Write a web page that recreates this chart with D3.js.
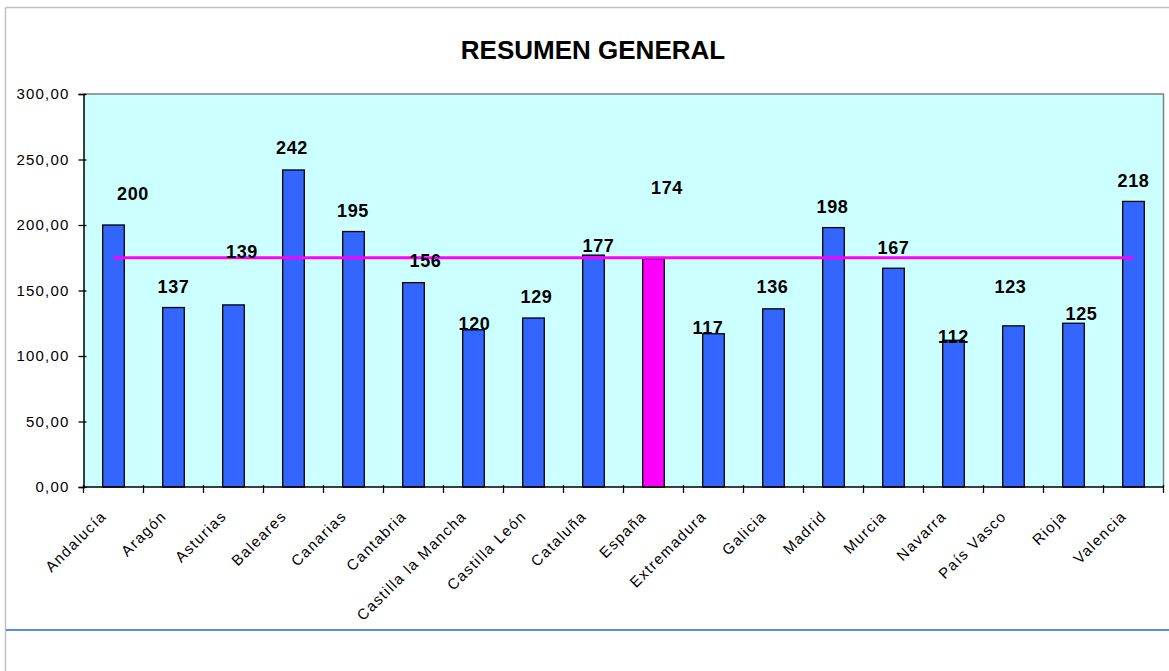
<!DOCTYPE html>
<html>
<head>
<meta charset="utf-8">
<script src="https://cdn.jsdelivr.net/npm/d3@7"></script>
<style>
  html, body { margin: 0; padding: 0; background: #ffffff; }
  svg { display: block; font-family: "Liberation Sans", Arial, sans-serif; }
</style>
</head>
<body>
<svg id="chart" width="1169" height="671"></svg>
<script>
// ---- data ----
const categories = ["Andalucía", "Aragón", "Asturias", "Baleares", "Canarias", "Cantabria",
  "Castilla la Mancha", "Castilla León", "Cataluña", "España", "Extremadura", "Galicia",
  "Madrid", "Murcia", "Navarra", "País Vasco", "Rioja", "Valencia"];
const values = [200, 137, 139, 242, 195, 156, 120, 129, 177, 174, 117, 136, 198, 167, 112, 123, 125, 218];
const averageLine = [175, 175, 175, 175, 175, 175, 175, 175, 175, 175, 175, 175, 175, 175, 175, 175, 175, 175];
const highlighted = ["España"];
const yTicks = [0, 50, 100, 150, 200, 250, 300];
const title = "RESUMEN GENERAL";
// label nudges (pixels) as placed in the original chart
const labelDx = [19.5, 0, 8.5, -1.5, -0.5, 12, 1, 3, 5, 13.5, -5.5, -1, -1, 0, 0, -3, 8, 0];
const labelLift = [25, 14.5, 47, 16, 14.5, 16, 0, 15, 3, 65, 0, 16, 15, 14, -3, 33, 3, 14];

// ---- layout ----
const svg = d3.select("#chart");
const W = 1169, H = 671;
const plot = { left: 83.5, right: 1163.5, top: 94, bottom: 487 };

const x = d3.scaleBand().domain(categories).range([plot.left, plot.right]).padding(0);
const y = d3.scaleLinear().domain([0, 300]).range([plot.bottom, plot.top]);
const locale = d3.formatLocale({ decimal: ",", thousands: ".", grouping: [3], currency: ["", "€"] });
const fmt = locale.format(".2f");

// outer frame
svg.append("line").attr("x1", 5.5).attr("x2", W).attr("y1", 7.5).attr("y2", 7.5)
  .attr("stroke", "#c0c0c0").attr("stroke-width", 1.5);
svg.append("line").attr("x1", 5.5).attr("x2", 5.5).attr("y1", 7.5).attr("y2", H)
  .attr("stroke", "#c0c0c0").attr("stroke-width", 1.5);
svg.append("line").attr("x1", 6).attr("x2", W).attr("y1", 630).attr("y2", 630)
  .attr("stroke", "#5b88ea").attr("stroke-width", 2);

// title
svg.append("text").attr("x", 593).attr("y", 59).attr("text-anchor", "middle")
  .attr("font-size", 26).attr("font-weight", "bold").attr("fill", "#000")
  .text(title);

// plot background
svg.append("rect").attr("x", plot.left).attr("y", plot.top)
  .attr("width", plot.right - plot.left).attr("height", plot.bottom - plot.top)
  .attr("fill", "#ccffff");
svg.append("path")
  .attr("d", `M${plot.left},${plot.top}H${plot.right}V${plot.bottom}`)
  .attr("fill", "none").attr("stroke", "#808080").attr("stroke-width", 1.5);

// bars
const bw = x.bandwidth() * 0.36;
svg.append("g").selectAll("rect").data(categories).join("rect")
  .attr("x", d => x(d) + x.bandwidth() / 2 - bw / 2)
  .attr("y", (d, i) => y(values[i]))
  .attr("width", bw)
  .attr("height", (d, i) => y(0) - y(values[i]))
  .attr("fill", d => highlighted.includes(d) ? "#ff00ff" : "#3366ff")
  .attr("stroke", "#000").attr("stroke-width", 1.3);

// average line
const line = d3.line().x((d, i) => x(categories[i]) + x.bandwidth() / 2).y(d => y(d));
svg.append("path").datum(averageLine).attr("d", line)
  .attr("fill", "none").attr("stroke", "#ff00ff").attr("stroke-width", 3);

// y axis
const yAxis = d3.axisLeft(y).tickValues(yTicks).tickFormat(fmt).tickSizeOuter(0).tickSize(5).tickPadding(9);
const gy = svg.append("g").attr("transform", `translate(${plot.left},0)`).call(yAxis);
gy.select(".domain").attr("stroke", "#000").attr("stroke-width", 1.5);
gy.selectAll(".tick line").attr("stroke", "#000").attr("stroke-width", 1.3).attr("x2", -5).attr("x1", 3);
gy.selectAll(".tick text").attr("font-size", 15).attr("fill", "#000")
  .attr("font-family", "\"Liberation Sans\", Arial, sans-serif").attr("letter-spacing", "1.2px");

// x axis (ticks at category boundaries)
const boundaries = categories.map(c => x(c)).concat([plot.right]);
const gx = svg.append("g");
gx.append("line").attr("x1", plot.left).attr("x2", plot.right).attr("y1", plot.bottom).attr("y2", plot.bottom)
  .attr("stroke", "#000").attr("stroke-width", 1.5);
gx.selectAll("line.tk").data(boundaries).join("line").attr("class", "tk")
  .attr("x1", d => d).attr("x2", d => d).attr("y1", plot.bottom - 2).attr("y2", plot.bottom + 6)
  .attr("stroke", "#000").attr("stroke-width", 1.3);
gx.selectAll("text").data(categories).join("text")
  .attr("transform", d => `translate(${x(d) + x.bandwidth() / 2 - 6},${plot.bottom + 30}) rotate(-45)`)
  .attr("text-anchor", "end")
  .attr("font-size", 15).attr("fill", "#000").attr("letter-spacing", "1.4px")
  .text(d => d);

// data labels
svg.append("g").selectAll("text").data(categories).join("text")
  .attr("x", (d, i) => x(d) + x.bandwidth() / 2 + labelDx[i])
  .attr("y", (d, i) => y(values[i]) - labelLift[i])
  .attr("text-anchor", "middle")
  .attr("font-size", 18).attr("font-weight", "bold").attr("fill", "#000")
  .attr("letter-spacing", "0.6px")
  .text((d, i) => values[i]);
</script>
</body>
</html>
